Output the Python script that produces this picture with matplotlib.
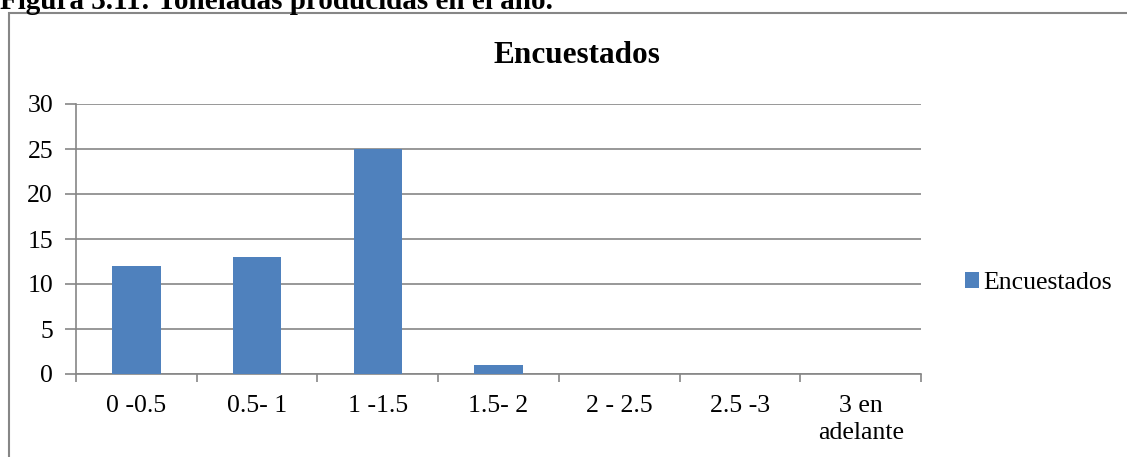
import matplotlib
matplotlib.use("Agg")
import matplotlib.pyplot as plt
from matplotlib.patches import Rectangle
import numpy as np

# datos de la encuesta
rangos = ["0 -0.5", "0.5- 1", "1 -1.5", "1.5- 2", "2 - 2.5", "2.5 -3", "3 en\nadelante"]
encuestados = [12, 13, 25, 1, 0, 0, 0]
y_ticks = [0, 5, 10, 15, 20, 25, 30]

plt.rcParams["font.family"] = ["Liberation Serif", "DejaVu Serif"]

W, H = 1127, 457
fig = plt.figure(figsize=(W / 100, H / 100), dpi=100)

def px(x0, y0, x1, y1):
    # caja en pixeles -> coordenadas de figura
    return [x0 / W, 1 - y1 / H, (x1 - x0) / W, (y1 - y0) / H]

gris = "#868686"
azul = "#4f81bd"

# marco del grafico
fig.patches.append(Rectangle((9 / W, -0.05), 1.0, 1 - 13 / H + 0.05,
                             transform=fig.transFigure, fill=False,
                             edgecolor=gris, linewidth=1.5))

fig.text(0, 1 - 9 / H, "Figura 3.11: Toneladas producidas en el año.",
         fontsize=21, fontweight="bold", va="baseline", ha="left")

ax = fig.add_axes(px(76, 104, 921, 374))
x = np.arange(len(rangos))
ax.bar(x, encuestados, width=0.4, color=azul, label="Encuestados", zorder=3)

ax.set_xlim(-0.5, len(rangos) - 0.5)
ax.set_ylim(0, 30)
ax.set_yticks(y_ticks)
ax.set_xticks(np.arange(len(rangos) + 1) - 0.5, minor=False)
ax.set_xticklabels([])
ax.set_xticks(x, minor=True)
ax.set_xticklabels(rangos, minor=True, fontsize=18.5, linespacing=1.3)
ax.tick_params(axis="x", which="minor", length=0, pad=15)
ax.tick_params(axis="x", which="major", length=6, color=gris, width=1.2)
ax.tick_params(axis="y", length=8, color=gris, width=1.2, labelsize=18.5, pad=8.5)

ax.grid(axis="y", color=gris, linewidth=1.2, zorder=0)
for s in ["top", "right"]:
    ax.spines[s].set_visible(False)
for s in ["left", "bottom"]:
    ax.spines[s].set_color(gris)
    ax.spines[s].set_linewidth(1.2)

fig.text(577 / W, 1 - 63 / H, "Encuestados", fontsize=22.5, fontweight="bold",
         ha="center", va="baseline")

ax.legend(loc="center left", bbox_to_anchor=(965 / W, 1 - 283 / H),
          bbox_transform=fig.transFigure, frameon=False, fontsize=18.5,
          handlelength=0.55, handleheight=0.55, handletextpad=0.15,
          borderpad=0, borderaxespad=0)

fig.savefig("out.png", dpi=100)
